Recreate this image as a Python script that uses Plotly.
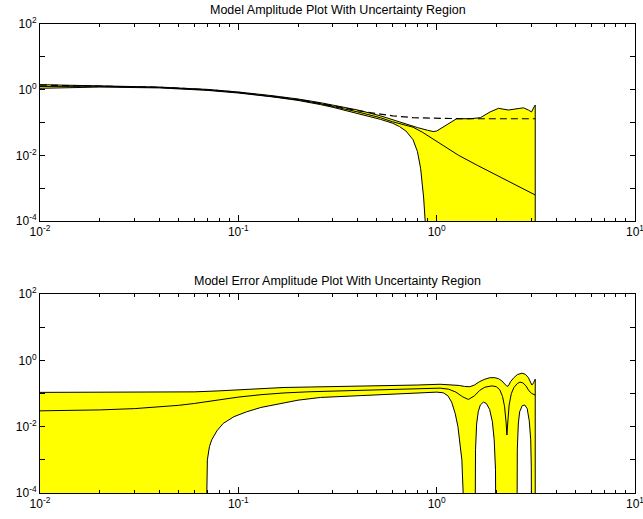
import plotly.graph_objects as go

# ---------------- Top panel: model amplitude ----------------
top_upper_x = [0.01, 0.02, 0.04, 0.07, 0.1, 0.15, 0.2, 0.26, 0.3, 0.4, 0.52, 0.6, 0.7, 0.8, 0.9, 0.96,
               1.0, 1.1, 1.2, 1.26, 1.47, 1.66, 1.86, 2.05, 2.3, 2.54, 2.74, 2.9, 3.01, 3.1, 3.14]
top_upper_y = [1.42, 1.33, 1.2, 1.02, 0.85, 0.65, 0.52, 0.4, 0.34, 0.24, 0.16, 0.12, 0.09, 0.07, 0.058, 0.053,
               0.055, 0.08, 0.11, 0.13, 0.13, 0.14, 0.21, 0.27, 0.24, 0.27, 0.28, 0.24, 0.21, 0.30, 0.34]

top_lower_x = [0.01, 0.02, 0.04, 0.07, 0.1, 0.15, 0.2, 0.26, 0.3, 0.4, 0.52, 0.6, 0.65, 0.7, 0.76, 0.8,
               0.83, 0.86, 0.88, 0.9, 3.14]
top_lower_y = [1.1, 1.2, 1.13, 0.95, 0.79, 0.6, 0.47, 0.35, 0.29, 0.19, 0.125, 0.095, 0.075, 0.055, 0.03, 0.013,
               0.004, 5e-4, 6e-5, 1e-8, 1e-8]

top_nom_x = [0.01, 0.02, 0.04, 0.07, 0.1, 0.15, 0.2, 0.26, 0.3, 0.4, 0.52, 0.6, 0.7, 0.76, 0.85,
             1.0, 1.29, 1.6, 2.0, 2.5, 3.14]
top_nom_y = [1.25, 1.27, 1.17, 0.98, 0.82, 0.62, 0.49, 0.37, 0.31, 0.21, 0.14, 0.105, 0.082, 0.072, 0.05,
             0.027, 0.01, 0.005, 0.0025, 0.0013, 0.00062]

top_true_x = [0.01, 0.02, 0.04, 0.07, 0.1, 0.15, 0.2, 0.26, 0.3, 0.4, 0.52, 0.6, 0.76, 1.0, 1.37, 3.14]
top_true_y = [1.38, 1.3, 1.18, 1.0, 0.83, 0.63, 0.5, 0.38, 0.32, 0.23, 0.18, 0.16, 0.14, 0.133, 0.13, 0.13]

# ---------------- Bottom panel: model error amplitude ----------------
bot_upper_x = [0.01, 0.04, 0.06, 0.08, 0.1, 0.13, 0.17, 0.23, 0.3, 0.5, 0.8, 1.04, 1.2, 1.3, 1.38, 1.47,
               1.55, 1.65, 1.75, 1.86, 1.96, 2.05, 2.13, 2.2, 2.26, 2.3, 2.36, 2.45, 2.55, 2.69, 2.8,
               2.9, 2.98, 3.02, 3.08, 3.14]
bot_upper_y = [0.108, 0.108, 0.112, 0.12, 0.13, 0.145, 0.152, 0.157, 0.16, 0.17, 0.18, 0.19, 0.185, 0.175,
               0.163, 0.16, 0.18, 0.23, 0.27, 0.3, 0.3, 0.28, 0.24, 0.2, 0.165, 0.17, 0.23, 0.3, 0.37,
               0.41, 0.38, 0.3, 0.21, 0.18, 0.21, 0.27]

bot_lower_x = [0.01, 0.0685, 0.069, 0.0698, 0.0715, 0.0734, 0.078, 0.084, 0.095, 0.11, 0.13, 0.162, 0.2,
               0.26, 0.35, 0.5, 0.7, 1.0, 1.08, 1.14, 1.19, 1.24, 1.28, 1.31, 1.34, 1.36, 1.37,
               1.555, 1.56, 1.57, 1.59, 1.62, 1.66, 1.72, 1.78, 1.85, 1.91, 1.95, 1.98, 2.0,
               2.53, 2.54, 2.55, 2.58, 2.62, 2.7, 2.78, 2.86, 2.93, 2.98, 3.0, 3.02, 3.14]
bot_lower_y = [1e-8, 1e-6, 1e-4, 0.001, 0.0025, 0.004, 0.0075, 0.0126, 0.02, 0.028, 0.038, 0.05, 0.063,
               0.076, 0.086, 0.095, 0.1, 0.11, 0.105, 0.085, 0.055, 0.025, 0.01, 0.004, 0.001, 1e-4, 1e-8,
               1e-8, 1e-4, 0.002, 0.012, 0.028, 0.045, 0.055, 0.05, 0.033, 0.014, 0.004, 5e-4, 1e-8,
               1e-8, 1e-4, 0.002, 0.012, 0.028, 0.043, 0.045, 0.035, 0.015, 0.004, 6e-4, 1e-8, 1e-8]

bot_nom_x = [0.01, 0.015, 0.02, 0.03, 0.04, 0.05, 0.06, 0.07, 0.08, 0.1, 0.13, 0.17, 0.23, 0.4, 0.65,
             1.04, 1.15, 1.25, 1.35, 1.445, 1.55, 1.65, 1.75, 1.9, 2.0, 2.08, 2.15, 2.2, 2.24, 2.26,
             2.28, 2.32, 2.38, 2.45, 2.55, 2.63, 2.72, 2.82, 2.92, 3.02, 3.14]
bot_nom_y = [0.030, 0.031, 0.032, 0.035, 0.039, 0.044, 0.05, 0.057, 0.065, 0.078, 0.092, 0.104, 0.113,
             0.125, 0.133, 0.145, 0.135, 0.11, 0.08, 0.066, 0.085, 0.125, 0.155, 0.17, 0.16, 0.13,
             0.08, 0.04, 0.013, 0.0056, 0.012, 0.045, 0.1, 0.15, 0.2, 0.22, 0.21, 0.17, 0.12, 0.1, 0.09]

top_title = "Model Amplitude Plot With Uncertainty Region"
bot_title = "Model Error Amplitude Plot With Uncertainty Region"

x_tickvals = [0.01, 0.1, 1, 10]
x_ticktext = ["10<sup>-2</sup>", "10<sup>-1</sup>", "10<sup>0</sup>", "10<sup>1</sup>"]
x_minor = [m * d for d in [0.01, 0.1, 1] for m in range(2, 10)]
y_tickvals = [1e-4, 1e-3, 1e-2, 1e-1, 1, 10, 100]
y_ticktext = ["10<sup>-4</sup>", "", "10<sup>-2</sup>", "", "10<sup>0</sup>", "", "10<sup>2</sup>"]

YELLOW = "#ffff00"
FONT = "Liberation Sans, Arial, Helvetica, sans-serif"

fig = go.Figure()


def add_panel(ux, uy, lx, ly, nx, ny, xa, ya, tx=None, ty=None):
    fig.add_trace(go.Scatter(x=ux + lx[::-1], y=uy + ly[::-1], fill="toself", fillcolor=YELLOW,
                             mode="lines", line=dict(color="black", width=1),
                             xaxis=xa, yaxis=ya, showlegend=False, hoverinfo="skip"))
    fig.add_trace(go.Scatter(x=nx, y=ny, mode="lines", line=dict(color="black", width=1),
                             xaxis=xa, yaxis=ya, showlegend=False))
    if tx is not None:
        fig.add_trace(go.Scatter(x=tx, y=ty, mode="lines",
                                 line=dict(color="black", width=1.2, dash="7px,4px"),
                                 xaxis=xa, yaxis=ya, showlegend=False))


add_panel(top_upper_x, top_upper_y, top_lower_x, top_lower_y, top_nom_x, top_nom_y, "x", "y",
          top_true_x, top_true_y)
add_panel(bot_upper_x, bot_upper_y, bot_lower_x, bot_lower_y, bot_nom_x, bot_nom_y, "x2", "y2")

W, H = 643, 519
xdom = [40 / W, 635 / W]
top_dom = [1 - 221 / H, 1 - 24 / H]
bot_dom = [1 - 493 / H, 1 - 294 / H]


def xaxis_cfg(anchor):
    return dict(type="log", range=[-2, 1.00001], domain=xdom, anchor=anchor,
                tickmode="array", tickvals=x_tickvals, ticktext=x_ticktext,
                ticklabeloverflow="allow", automargin=False,
                ticks="inside", ticklen=6, tickwidth=1, tickcolor="black",
                minor=dict(tickmode="array", tickvals=x_minor, ticks="inside", ticklen=3,
                           tickwidth=1, tickcolor="black", showgrid=False),
                showline=True, linecolor="black", linewidth=1, mirror="ticks",
                showgrid=False, zeroline=False,
                tickfont=dict(family=FONT, size=12, color="black"))


def yaxis_cfg(anchor, dom):
    return dict(type="log", range=[-4, 2], domain=dom, anchor=anchor,
                tickmode="array", tickvals=y_tickvals, ticktext=y_ticktext,
                ticklabeloverflow="allow", automargin=False,
                ticks="inside", ticklen=5, tickwidth=1, tickcolor="black",
                showline=True, linecolor="black", linewidth=1, mirror="ticks",
                showgrid=False, zeroline=False,
                tickfont=dict(family=FONT, size=12, color="black"))


fig.update_layout(
    width=W, height=H,
    margin=dict(l=0, r=0, t=0, b=0, autoexpand=False),
    paper_bgcolor="white", plot_bgcolor="white",
    xaxis=xaxis_cfg("y"), yaxis=yaxis_cfg("x", top_dom),
    xaxis2=xaxis_cfg("y2"), yaxis2=yaxis_cfg("x2", bot_dom),
    font=dict(family=FONT, size=12, color="black"),
    annotations=[
        dict(text=top_title, x=(xdom[0] + xdom[1]) / 2, y=top_dom[1], xref="paper", yref="paper",
             xanchor="center", yanchor="bottom", yshift=5, showarrow=False,
             font=dict(family=FONT, size=12.5, color="black")),
        dict(text=bot_title, x=(xdom[0] + xdom[1]) / 2, y=bot_dom[1], xref="paper", yref="paper",
             xanchor="center", yanchor="bottom", yshift=4, showarrow=False,
             font=dict(family=FONT, size=12.5, color="black")),
    ],
)

fig.write_html("out.html")
